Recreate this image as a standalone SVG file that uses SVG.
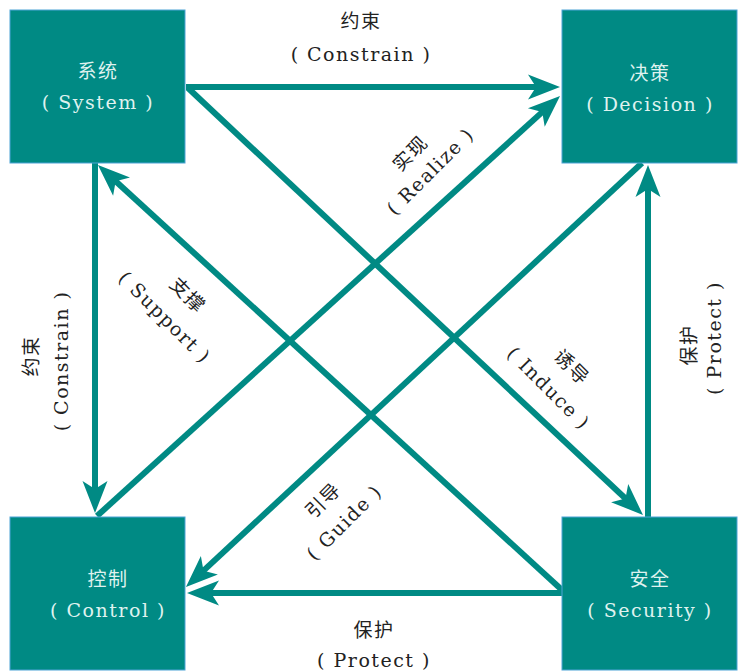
<svg xmlns="http://www.w3.org/2000/svg" width="738" height="671" viewBox="0 0 738 671">
<style>
.box{fill:#008a84;stroke:#4da3d6;stroke-width:1}
.bt{fill:#dff2ef;font-family:"DejaVu Serif","Noto Sans CJK SC",serif;font-size:19px;letter-spacing:1.5px;text-anchor:middle}
.lb{fill:#222;font-family:"DejaVu Serif","Noto Sans CJK SC",serif;font-size:19px;letter-spacing:1.5px;text-anchor:middle}
.cn{fill:none;stroke:#008a84;stroke-width:6;marker-end:url(#ah)}
</style>
<defs>
<marker id="ah" markerUnits="userSpaceOnUse" viewBox="-14 -14 36 28" refX="0" refY="0" markerWidth="36" markerHeight="28" orient="auto">
<path d="M20,0 L-12,-12.5 L-4,0 L-12,12.5 Z" fill="#008a84"/>
</marker>
</defs>
<rect width="738" height="671" fill="#fff"/>
<g id="connectors">
<line class="cn" x1="186" y1="87" x2="540" y2="87"/>
<line class="cn" x1="97" y1="516" x2="545.2" y2="109.4"/>
<line class="cn" x1="642" y1="163" x2="200.6" y2="573.4"/>
<line class="cn" x1="648" y1="517" x2="648" y2="185"/>
<line class="cn" x1="188" y1="88" x2="628.4" y2="501.3"/>
<line class="cn" x1="562" y1="590" x2="112.7" y2="178.5"/>
<line class="cn" x1="95" y1="163" x2="95" y2="493"/>
<line class="cn" x1="562" y1="593" x2="207" y2="593"/>
</g>
<g id="system">
<rect class="box" x="10" y="10" width="175" height="153"/>
<text class="bt" x="98" y="78">系统</text>
<text class="bt" x="98" y="109">( System )</text>
</g>
<g id="decision">
<rect class="box" x="562" y="10" width="175" height="153"/>
<text class="bt" x="650" y="80">决策</text>
<text class="bt" x="650" y="111">( Decision )</text>
</g>
<g id="control">
<rect class="box" x="10" y="517" width="175" height="153"/>
<text class="bt" x="108" y="586">控制</text>
<text class="bt" x="108" y="617">( Control )</text>
</g>
<g id="security">
<rect class="box" x="562" y="517" width="175" height="153"/>
<text class="bt" x="650" y="586">安全</text>
<text class="bt" x="650" y="617">( Security )</text>
</g>
<g id="labels">
<text class="lb" x="361" y="28">约束</text>
<text class="lb" x="361" y="61">( Constrain )</text>
<text class="lb" x="374" y="637">保护</text>
<text class="lb" x="374" y="667">( Protect )</text>
<text class="lb" transform="translate(38,356) rotate(-90)">约束</text>
<text class="lb" transform="translate(68,361) rotate(-90)">( Constrain )</text>
<text class="lb" transform="translate(696,345) rotate(-90)">保护</text>
<text class="lb" transform="translate(721,338) rotate(-90)">( Protect )</text>
<text class="lb" transform="translate(183,300) rotate(45)">支撑</text>
<text class="lb" transform="translate(160,322) rotate(45)">( Support )</text>
<text class="lb" transform="translate(415,158) rotate(-45)">实现</text>
<text class="lb" transform="translate(435,176) rotate(-45)">( Realize )</text>
<text class="lb" transform="translate(567,372) rotate(45)">诱导</text>
<text class="lb" transform="translate(544,393) rotate(45)">( Induce )</text>
<text class="lb" transform="translate(328,505) rotate(-45)">引导</text>
<text class="lb" transform="translate(349,527) rotate(-45)">( Guide )</text>
</g>
</svg>
